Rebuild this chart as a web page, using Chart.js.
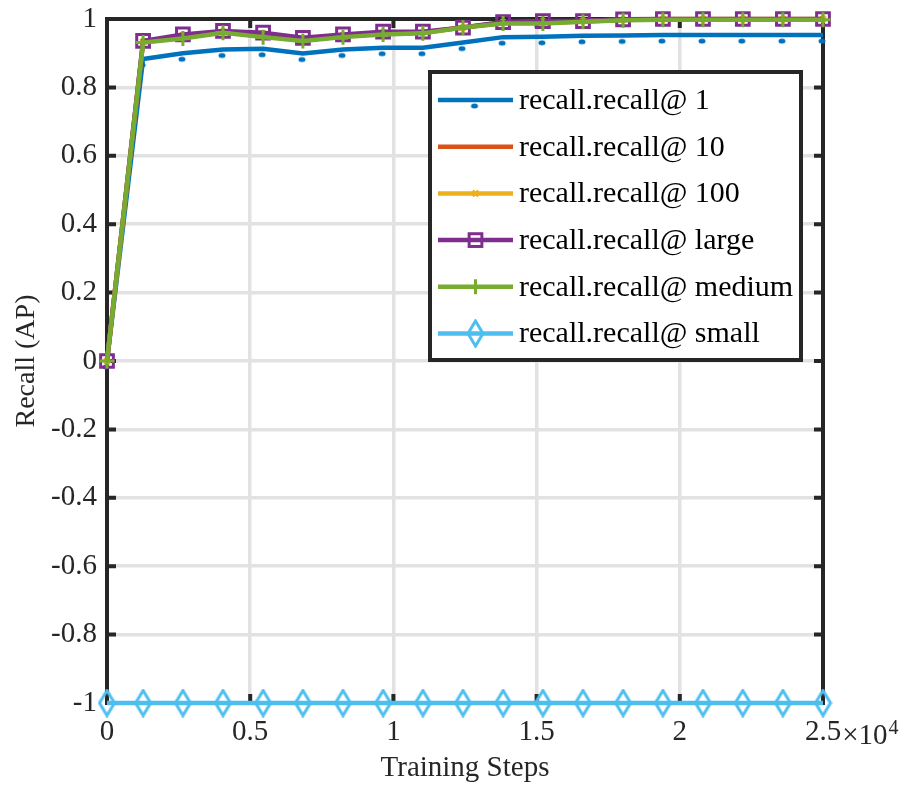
<!DOCTYPE html>
<html>
<head>
<meta charset="utf-8">
<title>Recall (AP)</title>
<script src="https://cdn.jsdelivr.net/npm/chart.js@4/dist/chart.umd.min.js"></script>
<style>
  html, body { margin: 0; padding: 0; background: #ffffff; }
  #wrap { width: 914px; height: 787px; }
</style>
</head>
<body>
<div id="wrap"><canvas id="recallChart" width="914" height="787"></canvas></div>
<script>
// Training step of each evaluation
const steps = [0, 1260, 2650, 4050, 5450, 6840, 8240, 9640, 11030, 12430, 13830, 15220, 16620, 18020, 19410, 20810, 22200, 23600, 25000];

// Recall values
const recallAt1 = [0, 0.883, 0.900, 0.911, 0.913, 0.899, 0.911, 0.916, 0.916, 0.931, 0.947, 0.948, 0.951, 0.952, 0.953, 0.953, 0.953, 0.953, 0.953];
const recallAt10 = [0, 0.932, 0.946, 0.961, 0.950, 0.938, 0.949, 0.957, 0.960, 0.975, 0.988, 0.989, 0.993, 0.997, 0.999, 0.999, 0.999, 0.999, 0.999];
const recallAt100 = [0, 0.934, 0.952, 0.963, 0.957, 0.942, 0.952, 0.960, 0.961, 0.975, 0.990, 0.992, 0.994, 0.998, 1, 1, 1, 1, 1];
const recallLarge = [0, 0.936, 0.955, 0.965, 0.960, 0.945, 0.955, 0.963, 0.963, 0.975, 0.991, 0.994, 0.994, 0.999, 1, 1, 1, 1, 1];
const recallMedium = [0, 0.931, 0.943, 0.960, 0.947, 0.936, 0.947, 0.955, 0.958, 0.975, 0.987, 0.987, 0.992, 0.996, 0.998, 0.998, 0.998, 0.998, 0.998];
const recallSmall = [-1, -1, -1, -1, -1, -1, -1, -1, -1, -1, -1, -1, -1, -1, -1, -1, -1, -1, -1];

const seriesLabels = ["recall.recall@ 1", "recall.recall@ 10", "recall.recall@ 100", "recall.recall@ large", "recall.recall@ medium", "recall.recall@ small"];

// Tick values
const xTickValues = [0, 5000, 10000, 15000, 20000, 25000];
const yTickValues = [-1, -0.8, -0.6, -0.4, -0.2, 0, 0.2, 0.4, 0.6, 0.8, 1];

const FONT = "'Liberation Serif', 'Times New Roman', serif";
const AXIS_COLOR = "#262626";

// Marker for recall@1 (small blob sitting just below the line)
function makeBlob() {
  const c = document.createElement("canvas");
  c.width = 14;
  c.height = 26;
  const g = c.getContext("2d");
  g.fillStyle = "#0072BD";
  g.beginPath();
  g.ellipse(6, 19, 3.5, 2.5, 0, 0, Math.PI * 2);
  g.fill();
  return c;
}

// Tall diamond marker for recall@small
function makeDiamond() {
  const c = document.createElement("canvas");
  c.width = 19;
  c.height = 29;
  const g = c.getContext("2d");
  g.strokeStyle = "#4DBEEE";
  g.lineWidth = 3;
  g.beginPath();
  g.moveTo(9.5, 2);
  g.lineTo(17, 14.5);
  g.lineTo(9.5, 27);
  g.lineTo(2, 14.5);
  g.closePath();
  g.stroke();
  return c;
}

const blobMarker = makeBlob();
const diamondMarker = makeDiamond();

function toPoints(values) {
  return steps.map((s, i) => ({ x: s, y: values[i] }));
}

const series = [
  { values: recallAt1, color: "#0072BD", pointStyle: blobMarker, radius: 7, bw: 1 },
  { values: recallAt10, color: "#D95319", pointStyle: false, radius: 0, bw: 1 },
  { values: recallAt100, color: "#EDB120", pointStyle: "crossRot", radius: 4, bw: 3 },
  { values: recallLarge, color: "#7E2F8E", pointStyle: "rect", radius: 9, bw: 3 },
  { values: recallMedium, color: "#77AC30", pointStyle: "cross", radius: 7.5, bw: 3 },
  { values: recallSmall, color: "#4DBEEE", pointStyle: diamondMarker, radius: 9, bw: 3 },
];

const datasets = series.map((s, i) => ({
  label: seriesLabels[i],
  data: toPoints(s.values),
  borderColor: s.color,
  backgroundColor: "rgba(0,0,0,0)",
  borderWidth: 4.5,
  pointStyle: s.pointStyle,
  pointRadius: s.radius,
  pointBorderColor: s.color,
  pointBackgroundColor: "rgba(0,0,0,0)",
  pointBorderWidth: s.bw,
  tension: 0,
  clip: false,
  order: 6 - i,
}));

// Axes box with inward ticks, drawn under the data
const boxPlugin = {
  id: "boxPlugin",
  beforeDatasetsDraw(chart) {
    const { ctx, chartArea: a, scales } = chart;
    const tl = 9;
    ctx.save();
    ctx.strokeStyle = AXIS_COLOR;
    ctx.lineWidth = 4;
    ctx.beginPath();
    xTickValues.forEach((v) => {
      const px = scales.x.getPixelForValue(v);
      ctx.moveTo(px, a.bottom);
      ctx.lineTo(px, a.bottom - tl);
      ctx.moveTo(px, a.top);
      ctx.lineTo(px, a.top + tl);
    });
    yTickValues.forEach((v) => {
      const py = scales.y.getPixelForValue(v);
      ctx.moveTo(a.left, py);
      ctx.lineTo(a.left + tl, py);
      ctx.moveTo(a.right, py);
      ctx.lineTo(a.right - tl, py);
    });
    ctx.stroke();
    ctx.strokeRect(a.left, a.top, a.right - a.left, a.bottom - a.top);
    ctx.restore();
  },
};

// Draw one legend marker in the same style as the dataset
function drawMarker(ctx, s, x, y) {
  ctx.save();
  ctx.strokeStyle = s.color;
  ctx.lineWidth = s.bw;
  const r = s.radius;
  if (s.pointStyle instanceof HTMLCanvasElement) {
    ctx.drawImage(s.pointStyle, x - s.pointStyle.width / 2, y - s.pointStyle.height / 2);
  } else if (s.pointStyle === "rect") {
    const h = r * Math.SQRT1_2;
    ctx.strokeRect(x - h, y - h, 2 * h, 2 * h);
  } else if (s.pointStyle === "cross") {
    ctx.beginPath();
    ctx.moveTo(x - r, y);
    ctx.lineTo(x + r, y);
    ctx.moveTo(x, y - r);
    ctx.lineTo(x, y + r);
    ctx.stroke();
  } else if (s.pointStyle === "crossRot") {
    const d = r * Math.SQRT1_2;
    ctx.beginPath();
    ctx.moveTo(x - d, y - d);
    ctx.lineTo(x + d, y + d);
    ctx.moveTo(x - d, y + d);
    ctx.lineTo(x + d, y - d);
    ctx.stroke();
  }
  ctx.restore();
}

// Legend box inside the plot + the x10^4 exponent
const legendPlugin = {
  id: "legendPlugin",
  afterDraw(chart) {
    const { ctx, chartArea: a, scales } = chart;
    const box = { left: 430, top: 72, width: 371, height: 288 };
    ctx.save();
    ctx.fillStyle = "#ffffff";
    ctx.fillRect(box.left, box.top, box.width, box.height);
    ctx.strokeStyle = AXIS_COLOR;
    ctx.lineWidth = 4;
    ctx.strokeRect(box.left, box.top, box.width, box.height);

    ctx.font = "30px " + FONT;
    ctx.textBaseline = "middle";
    ctx.textAlign = "left";
    series.forEach((s, i) => {
      const y = 100 + i * 46.7;
      ctx.strokeStyle = s.color;
      ctx.lineWidth = 4.5;
      ctx.beginPath();
      ctx.moveTo(438, y);
      ctx.lineTo(513, y);
      ctx.stroke();
      drawMarker(ctx, s, 475.5, y);
      ctx.fillStyle = "#000000";
      ctx.fillText(seriesLabels[i], 519, y + 1);
    });

    // Exponent next to the last x tick label
    const xLast = scales.x.getPixelForValue(25000);
    ctx.font = "29px " + FONT;
    const w = ctx.measureText("2.5").width;
    ctx.fillStyle = AXIS_COLOR;
    ctx.textBaseline = "alphabetic";
    const base = a.bottom + 41;
    const start = xLast + w / 2 + 1;
    ctx.fillText("\u00d710", start, base);
    const w2 = ctx.measureText("\u00d710").width;
    ctx.font = "20px " + FONT;
    ctx.fillText("4", start + w2 + 1, base - 10);
    ctx.restore();
  },
};

new Chart(document.getElementById("recallChart").getContext("2d"), {
  type: "line",
  data: { datasets: datasets },
  options: {
    responsive: false,
    animation: false,
    devicePixelRatio: 1,
    events: [],
    layout: { padding: { left: 0, right: 91, top: 19, bottom: 0 } },
    plugins: {
      legend: { display: false },
      tooltip: { enabled: false },
    },
    scales: {
      x: {
        type: "linear",
        min: 0,
        max: 25000,
        afterBuildTicks: (s) => {
          s.ticks = xTickValues.map((v) => ({ value: v }));
        },
        afterFit: (s) => {
          s.height = 84;
          s.paddingLeft = 0;
          s.paddingRight = 0;
        },
        ticks: {
          color: AXIS_COLOR,
          font: { family: FONT, size: 29 },
          padding: 12,
          maxRotation: 0,
          autoSkip: false,
          callback: (v) => (v === 25000 ? "2.5" : String(v / 10000)),
        },
        grid: { color: "#e2e2e2", lineWidth: 3.5, drawTicks: false },
        border: { display: false },
        title: {
          display: true,
          text: "Training Steps",
          color: AXIS_COLOR,
          font: { family: FONT, size: 29 },
          padding: { top: 0, bottom: 1 },
        },
      },
      y: {
        min: -1,
        max: 1,
        afterBuildTicks: (s) => {
          s.ticks = yTickValues.map((v) => ({ value: v }));
        },
        afterFit: (s) => {
          s.width = 107;
          s.paddingTop = 0;
          s.paddingBottom = 0;
        },
        ticks: {
          color: AXIS_COLOR,
          font: { family: FONT, size: 29 },
          padding: 10,
          autoSkip: false,
          callback: (v) => String(Math.round(v * 10) / 10),
        },
        grid: { color: "#e2e2e2", lineWidth: 3.5, drawTicks: false },
        border: { display: false },
        title: {
          display: true,
          text: "Recall (AP)",
          color: AXIS_COLOR,
          font: { family: FONT, size: 28 },
          padding: { top: 10, bottom: 0 },
        },
      },
    },
  },
  plugins: [boxPlugin, legendPlugin],
});
</script>
</body>
</html>
